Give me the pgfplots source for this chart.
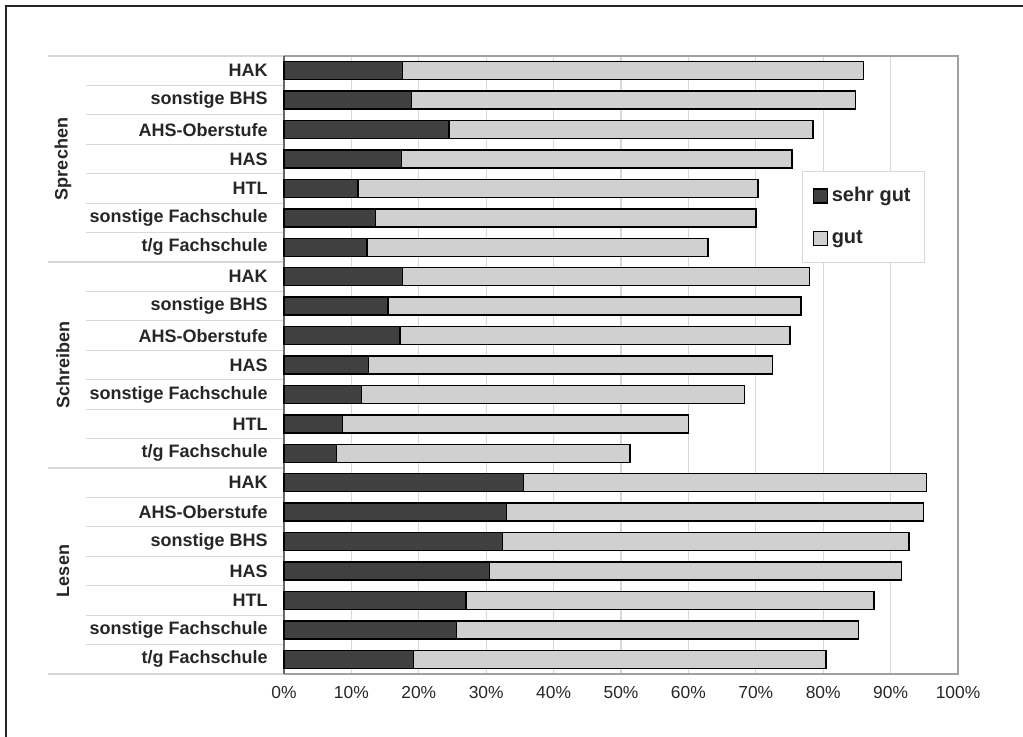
\documentclass[border=0pt]{standalone}
\usepackage{pgfplots}
\pgfplotsset{compat=1.18}
\usepackage{pgfplotstable}
\usepackage{fontspec}
\setmainfont{Liberation Sans}

\pgfplotstableread{
idx sg g
0 17.6 68.4
1 18.9 65.9
2 24.5 54.0
3 17.4 58.0
4 11.0 59.3
5 13.6 56.4
6 12.3 50.6
7 17.6 60.4
8 15.4 61.3
9 17.2 57.9
10 12.5 60.0
11 11.5 56.8
12 8.7 51.3
13 7.8 43.5
14 35.5 59.8
15 33.0 61.9
16 32.4 60.3
17 30.5 61.1
18 27.0 60.5
19 25.6 59.6
20 19.2 61.2
}\data

\definecolor{darkbar}{HTML}{404040}
\definecolor{lightbar}{HTML}{D0D0D0}
\definecolor{gridc}{HTML}{D8D8D8}
\definecolor{framec}{HTML}{A0A0A0}

\begin{document}
\begin{tikzpicture}
\useasboundingbox (0pt,0pt) rectangle (511.5pt,368.5pt);
\draw[line width=0.8pt, black!85] (3pt,0pt) -- (3pt,365.5pt) -- (511.5pt,365.5pt);
\begin{axis}[
  at={(142pt,31.5pt)}, anchor=south west,
  scale only axis, width=337pt, height=309pt,
  xbar stacked, bar width=9pt,
  xmin=0, xmax=100, ymin=-0.5, ymax=20.5, y dir=reverse,
  clip=false,
  axis line style={draw=framec, line width=0.6pt},
  xmajorgrids, major grid style={draw=gridc, line width=0.6pt},
  major tick length=0pt,
  xtick={0,10,20,30,40,50,60,70,80,90,100},
  xticklabels={0\%,10\%,20\%,30\%,40\%,50\%,60\%,70\%,80\%,90\%,100\%},
  xticklabel style={font=\fontsize{8.7}{10}\selectfont, text=black!85, inner sep=0pt, yshift=-6pt},
  ytick={0,1,...,20},
  yticklabels={HAK, sonstige BHS, AHS-Oberstufe, HAS, HTL, sonstige Fachschule, t/g Fachschule, HAK, sonstige BHS, AHS-Oberstufe, HAS, sonstige Fachschule, HTL, t/g Fachschule, HAK, AHS-Oberstufe, sonstige BHS, HAS, HTL, sonstige Fachschule, t/g Fachschule},
  yticklabel style={font=\bfseries\fontsize{9}{11}\selectfont, text=black!85, anchor=east, inner sep=0pt, xshift=-8pt},
  legend style={at={(0.7685,0.8144)}, anchor=north west, draw=gridc, line width=0.6pt,
    font=\bfseries\fontsize{10}{12}\selectfont, text=black!85, inner xsep=5pt, inner ysep=6pt, row sep=9pt,
    cells={anchor=west}},
  legend image code/.code={\draw[#1, line width=0.6pt] (0pt,-3.5pt) rectangle (7pt,3.5pt);},
]
\addplot[fill=darkbar, draw=black, line width=0.75pt] table[x=sg, y=idx] {\data};
\addlegendentry{sehr gut}
\addplot[fill=lightbar, draw=black, line width=0.75pt] table[x=g, y=idx] {\data};
\addlegendentry{gut}

\draw[black!60, line width=1pt] (rel axis cs:0,0) -- (rel axis cs:0,1);
\pgfplotsinvokeforeach{0.5,1.5,2.5,3.5,4.5,5.5,7.5,8.5,9.5,10.5,11.5,12.5,14.5,15.5,16.5,17.5,18.5,19.5}{
  \draw[gridc, line width=0.6pt] ([xshift=-99pt]axis cs:0,#1) -- (axis cs:0,#1);
}
\pgfplotsinvokeforeach{-0.5,6.5,13.5,20.5}{
  \draw[gridc, line width=0.6pt] ([xshift=-118pt]axis cs:0,#1) -- (axis cs:0,#1);
}
\node[rotate=90, font=\bfseries\fontsize{9}{11}\selectfont, text=black!85] at ([xshift=-110.5pt]axis cs:0,3) {Sprechen};
\node[rotate=90, font=\bfseries\fontsize{9}{11}\selectfont, text=black!85] at ([xshift=-110.5pt]axis cs:0,10) {Schreiben};
\node[rotate=90, font=\bfseries\fontsize{9}{11}\selectfont, text=black!85] at ([xshift=-110.5pt]axis cs:0,17) {Lesen};
\end{axis}
\end{tikzpicture}
\end{document}
